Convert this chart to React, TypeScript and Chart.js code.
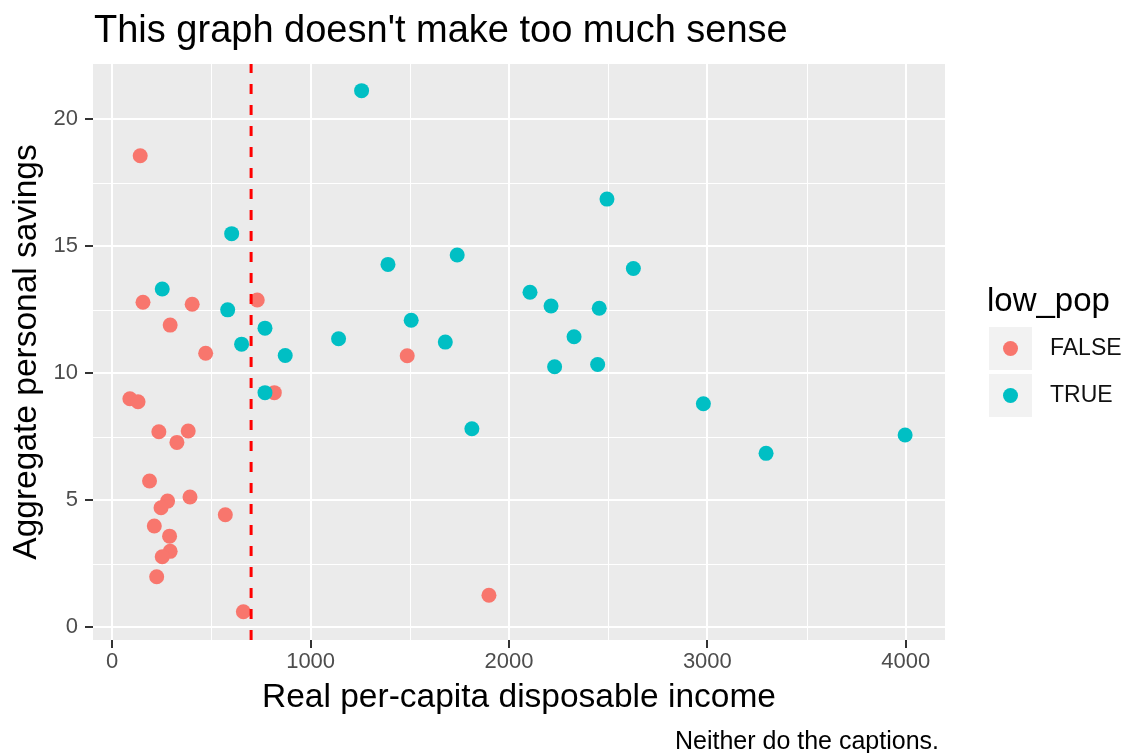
import { useEffect, useRef } from 'react';
import { Chart, registerables } from 'chart.js';

Chart.register(...registerables);

const FONT = "'Liberation Sans', Arial, Helvetica, sans-serif";

const TITLE = "This graph doesn't make too much sense";
const X_TITLE = 'Real per-capita disposable income';
const Y_TITLE = 'Aggregate personal savings';
const CAPTION = 'Neither do the captions.';
const LEGEND_TITLE = 'low_pop';
const SERIES = ['FALSE', 'TRUE'];
const COLORS = ['#F8766D', '#00BFC4'];

const FALSE_X = [141, 155, 403, 731, 292, 471, 817, 89, 130, 235, 383, 326, 188, 392, 279, 246, 570, 212, 289, 292, 252, 224, 661, 1487, 1899];
const FALSE_Y = [18.57, 12.8, 12.72, 12.89, 11.9, 10.79, 9.24, 9.0, 8.88, 7.7, 7.73, 7.28, 5.76, 5.13, 4.97, 4.71, 4.43, 3.99, 3.59, 2.99, 2.78, 1.99, 0.61, 10.69, 1.26];

const TRUE_X = [1257, 602, 252, 582, 770, 1141, 652, 872, 770, 2494, 1390, 1739, 2627, 2106, 2212, 2455, 1507, 2328, 1679, 2230, 2447, 1813, 2980, 3296, 3997];
const TRUE_Y = [21.13, 15.5, 13.32, 12.5, 11.78, 11.36, 11.15, 10.7, 9.24, 16.86, 14.29, 14.66, 14.13, 13.19, 12.65, 12.56, 12.09, 11.44, 11.23, 10.26, 10.35, 7.82, 8.8, 6.85, 7.57];

const X_TICKS = [0, 1000, 2000, 3000, 4000];
const Y_TICKS = [0, 5, 10, 15, 20];
const X_MINOR = [500, 1500, 2500, 3500];
const Y_MINOR = [2.5, 7.5, 12.5, 17.5];
const X_RANGE = [-97, 4198];
const Y_RANGE = [-0.5, 22.18];
const CUTOFF = 700;

const ggPlugin = {
  id: 'ggStyle',
  beforeDraw(chart: any) {
    const { ctx, chartArea: a, scales } = chart;
    const x = scales.x;
    const y = scales.y;
    ctx.save();
    ctx.fillStyle = '#EBEBEB';
    ctx.fillRect(a.left, a.top, a.right - a.left, a.bottom - a.top);
    ctx.strokeStyle = '#FFFFFF';
    ctx.lineWidth = 1;
    X_MINOR.forEach((v) => {
      const px = Math.round(x.getPixelForValue(v)) + 0.5;
      ctx.beginPath();
      ctx.moveTo(px, a.top);
      ctx.lineTo(px, a.bottom);
      ctx.stroke();
    });
    Y_MINOR.forEach((v) => {
      const py = Math.round(y.getPixelForValue(v)) + 0.5;
      ctx.beginPath();
      ctx.moveTo(a.left, py);
      ctx.lineTo(a.right, py);
      ctx.stroke();
    });
    ctx.restore();
  },
  afterDraw(chart: any) {
    const { ctx, chartArea: a } = chart;
    ctx.save();
    // title
    ctx.fillStyle = '#000000';
    ctx.font = `38px ${FONT}`;
    ctx.textAlign = 'left';
    ctx.textBaseline = 'alphabetic';
    ctx.fillText(TITLE, a.left + 1, 42);
    // caption
    ctx.font = `25px ${FONT}`;
    ctx.textAlign = 'right';
    ctx.fillText(CAPTION, a.right - 6, 749);
    // legend
    ctx.textAlign = 'left';
    ctx.font = `33px ${FONT}`;
    ctx.fillText(LEGEND_TITLE, 987, 311);
    SERIES.forEach((s, i) => {
      const top = 327 + i * 47;
      ctx.fillStyle = '#F2F2F2';
      ctx.fillRect(989, top, 43, 43);
      ctx.fillStyle = COLORS[i];
      ctx.beginPath();
      ctx.arc(1010.5, top + 21.5, 7.5, 0, Math.PI * 2);
      ctx.fill();
      ctx.fillStyle = '#111111';
      ctx.font = `23px ${FONT}`;
      ctx.textBaseline = 'middle';
      ctx.fillText(s, 1050, top + 22);
    });
    ctx.restore();
  },
};

export default function App() {
  const ref = useRef<HTMLCanvasElement | null>(null);

  useEffect(() => {
    if (!ref.current) return;
    Chart.defaults.font.family = FONT;
    const chart = new Chart(ref.current, {
      type: 'scatter',
      data: {
        datasets: [
          {
            label: 'cutoff',
            data: [
              { x: CUTOFF, y: Y_RANGE[0] },
              { x: CUTOFF, y: Y_RANGE[1] },
            ],
            showLine: true,
            borderColor: '#FF0000',
            borderWidth: 3,
            borderDash: [10, 11],
            pointRadius: 0,
            order: 0,
          } as any,
          {
            label: SERIES[1],
            data: TRUE_X.map((v, i) => ({ x: v, y: TRUE_Y[i] })),
            backgroundColor: COLORS[1],
            borderWidth: 0,
            pointRadius: 7.5,
            order: 1,
          },
          {
            label: SERIES[0],
            data: FALSE_X.map((v, i) => ({ x: v, y: FALSE_Y[i] })),
            backgroundColor: COLORS[0],
            borderWidth: 0,
            pointRadius: 7.5,
            order: 2,
          },
        ],
      },
      options: {
        responsive: false,
        animation: false,
        events: [],
        layout: { padding: { top: 64, right: 182, left: 0, bottom: 0 } },
        plugins: {
          legend: { display: false },
          tooltip: { enabled: false },
          title: { display: false },
        },
        scales: {
          x: {
            type: 'linear',
            min: X_RANGE[0],
            max: X_RANGE[1],
            afterBuildTicks: (s: any) => {
              s.ticks = X_TICKS.map((v) => ({ value: v }));
            },
            afterFit: (s: any) => {
              s.height = 113;
            },
            grid: {
              color: '#FFFFFF',
              lineWidth: 2,
              tickColor: '#333333',
              tickLength: 8,
              tickWidth: 2,
            },
            border: { display: false },
            ticks: {
              color: '#4D4D4D',
              font: { size: 22 },
              padding: 1,
              maxRotation: 0,
              autoSkip: false,
              callback: (v: any) => String(v),
            },
            title: {
              display: true,
              text: X_TITLE,
              color: '#000000',
              font: { size: 33.5 },
              padding: { top: 0, bottom: 35 },
            },
          },
          y: {
            type: 'linear',
            min: Y_RANGE[0],
            max: Y_RANGE[1],
            afterBuildTicks: (s: any) => {
              s.ticks = Y_TICKS.map((v) => ({ value: v }));
            },
            afterFit: (s: any) => {
              s.width = 93;
            },
            grid: {
              color: '#FFFFFF',
              lineWidth: 2,
              tickColor: '#333333',
              tickLength: 8,
              tickWidth: 2,
            },
            border: { display: false },
            ticks: {
              color: '#4D4D4D',
              font: { size: 22 },
              padding: 7,
              autoSkip: false,
              callback: (v: any) => String(v),
            },
            title: {
              display: true,
              text: Y_TITLE,
              color: '#000000',
              font: { size: 33.5 },
              padding: { top: 7, bottom: 0 },
            },
          },
        },
      },
      plugins: [ggPlugin],
    });
    return () => chart.destroy();
  }, []);

  return (
    <div style={{ position: 'fixed', left: 0, top: 0, width: 1127, height: 753, background: '#FFFFFF' }}>
      <canvas ref={ref} width={1127} height={753} style={{ display: 'block' }} />
    </div>
  );
}
